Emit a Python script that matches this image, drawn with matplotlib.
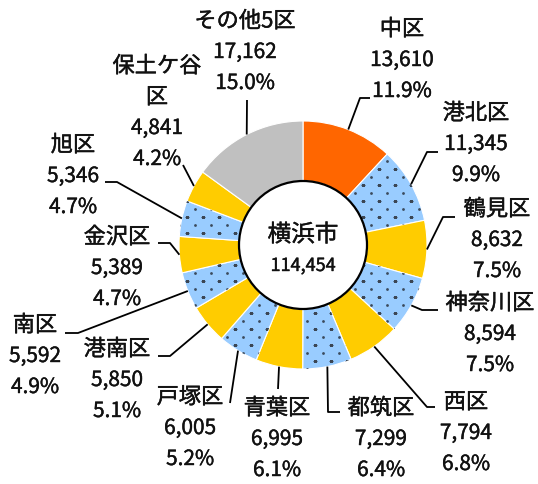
# Yokohama wards donut chart
import numpy as np
import matplotlib.pyplot as plt
import matplotlib.patheffects as pe
from matplotlib.patches import Wedge, Circle

plt.rcParams['font.family'] = ['Noto Sans CJK JP', 'DejaVu Sans']

wards = ["中区", "港北区", "鶴見区", "神奈川区", "西区", "都筑区", "青葉区",
         "戸塚区", "港南区", "南区", "金沢区", "旭区", "保土ケ谷\n区", "その他5区"]
counts = [13610, 11345, 8632, 8594, 7794, 7299, 6995,
          6005, 5850, 5592, 5389, 5346, 4841, 17162]
shares = [11.9, 9.9, 7.5, 7.5, 6.8, 6.4, 6.1, 5.2, 5.1, 4.9, 4.7, 4.7, 4.2, 15.0]
city = "横浜市"
city_total = 114454

W, H = 538, 484
orange, blue, yellow, grey = '#FF6600', '#99CCFF', '#FFCC00', '#C0C0C0'
colors = [orange] + [blue, yellow] * 6 + [grey]
dotted = [False] + [True, False] * 6 + [False]

# label layout in pixels: (text x, first line y, [leader points after the wedge])
layout = [
    (402, 29, [(360, 98), (370, 98)]),
    (476, 113, [(427, 152), (438, 152)]),
    (497, 209, [(443, 217), (455, 217)]),
    (490, 303, [(422, 310), (438, 310)]),
    (466, 402, [(427, 407), (435, 407)]),
    (381, 408, [(328, 412), (340, 412)]),
    (277, 408, [(278, 389)]),
    (190, 397, [(230, 403)]),
    (117, 349, [(170, 356), (158, 356)]),
    (35, 325, [(78, 333), (65, 333)]),
    (117, 237, [(170, 243), (158, 243)]),
    (73, 145, [(117, 182), (105, 182)]),
    (157, 66, [(183, 165)]),
    (245, 21, [(247, 100)]),
]

heavy = [pe.withStroke(linewidth=0.3, foreground='#111111')]

fig = plt.figure(figsize=(W / 100, H / 100), dpi=100)
ax = fig.add_axes([0, 0, 1, 1])

cx, cy = 303, H - 245
r_out, r_in = 124, 64

wedges, _ = ax.pie(counts, radius=r_out, center=(cx, cy), startangle=90,
                   counterclock=False, colors=colors,
                   wedgeprops=dict(width=r_out - r_in, edgecolor='white', linewidth=0.8))

# dotted fill pattern for the blue wedges (staggered rows: big dots / small dashes)
gx = np.arange(cx - r_out - 16, cx + r_out + 16, 16.0)
gy = np.arange(cy - r_out - 16, cy + r_out + 16, 8.0)
big_x, big_y, small_x, small_y = [], [], [], []
for k, yy in enumerate(gy):
    if k % 2 == 0:
        big_x += list(gx); big_y += [yy] * len(gx)
    else:
        small_x += list(gx + 8); small_y += [yy] * len(gx)
for w, d in zip(wedges, dotted):
    if d:
        clip = Wedge(w.center, w.r, w.theta1, w.theta2, width=w.width,
                     transform=ax.transData)
        s1 = ax.scatter(big_x, big_y, s=4, color='#3b4a5c', linewidths=0, zorder=2)
        s2 = ax.scatter(small_x, small_y, s=5, marker='_', color='#3b4654', linewidths=0.8, zorder=2)
        s1.set_clip_path(clip)
        s2.set_clip_path(clip)

ax.add_patch(Circle((cx, cy), r_in, facecolor='white', edgecolor='black', linewidth=1.6, zorder=3))
ax.text(cx, H - 235, city, ha='center', va='center', fontsize=17, color='#111111',
        zorder=4, path_effects=heavy)
ax.text(cx, H - 266, f"{city_total:,}", ha='center', va='center', fontsize=13,
        color='#111111', zorder=4, path_effects=heavy)

for w, name, n, s, (tx, ty, pts) in zip(wedges, wards, counts, shares, layout):
    ang = np.deg2rad((w.theta1 + w.theta2) / 2)
    xs = [cx + r_out * np.cos(ang)] + [p[0] for p in pts]
    ys = [cy + r_out * np.sin(ang)] + [H - p[1] for p in pts]
    ax.plot(xs, ys, color='black', linewidth=1.3, solid_capstyle='butt')
    lines = name.split('\n') + [f"{n:,}", f"{s:.1f}%"]
    for i, line in enumerate(lines):
        ax.text(tx, H - (ty + 31 * i), line, ha='center', va='center',
                fontsize=16 if i < len(lines) - 2 else 15, color='#111111',
                path_effects=heavy)

ax.set_xlim(0, W)
ax.set_ylim(0, H)
ax.set_aspect('equal')
ax.axis('off')

fig.savefig('out.png', dpi=100)
